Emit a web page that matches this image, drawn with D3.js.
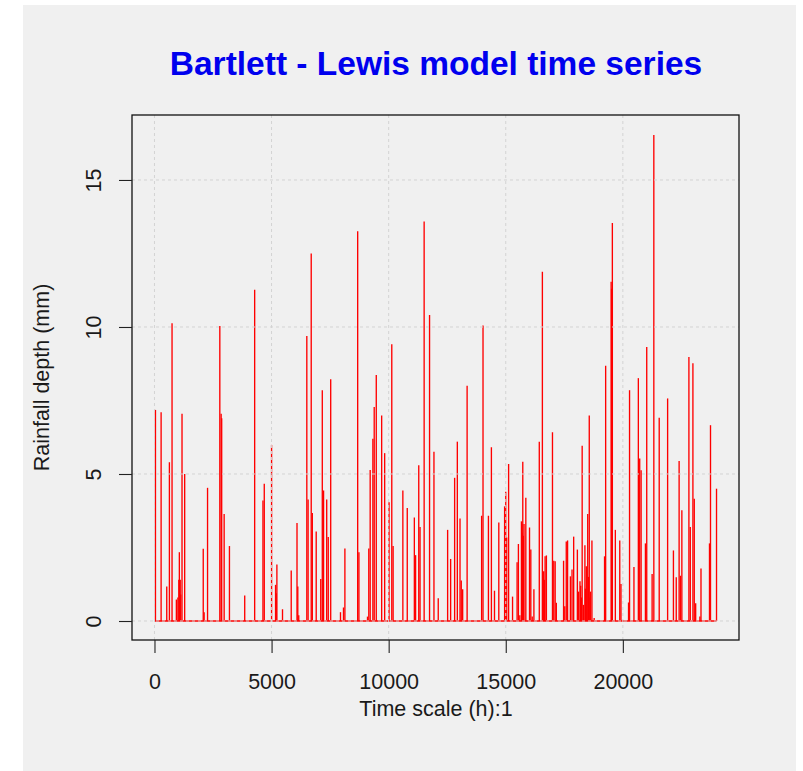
<!DOCTYPE html>
<html><head><meta charset="utf-8">
<script src="https://cdn.jsdelivr.net/npm/d3@7"></script>
<style>html,body{margin:0;padding:0;background:#fff;}svg{display:block;}</style>
</head><body>
<script>
// ---- data ----
const chartTitle = "Bartlett - Lewis model time series";
const xLabel = "Time scale (h):1";
const yLabel = "Rainfall depth (mm)";
const xTicks = [0, 5000, 10000, 15000, 20000];
const yTicks = [0, 5, 10, 15];
const seriesStart = 0, seriesEnd = 24000;
// hour of each rainfall spike
const hours = [
 42,283,524,637,750,935,1000,1040,1062,1100,1120,1176,1289,2082,2120,2266,2790,2847,2870,2975,3201,3853,4278,4632,4688,5000,5170,5200,5227,5467,
 5839,6086,6120,6160,6505,6560,6693,6740,6906,7100,7166,7220,7354,7420,7525,7943,8071,8131,8677,8730,9096,9151,9211,9326,9383,9471,9701,9829,10017,10133,10190,
 10606,10794,11097,11150,11285,11340,11515,11746,11934,12117,
 12518,12646,12817,12932,13047,13100,13160,13350,13969,14029,14260,14387,14519,14703,14951,15000,15040,15122,15290,15484,15540,15600,15669,15690,15700,15727,15750,15780,15857,
 16015,16070,16130,16202,16432,16564,16620,16650,16680,16735,16995,17050,17110,17160,17469,17520,17584,17640,17760,17830,17900,18058,18110,18170,18200,18230,18263,18320,18380,18400,18440,18500,18530,18566,18600,18620,18680,18775,
 19219,19266,19500,19520,19552,19680,19868,19920,20243,20286,20474,20662,20720,20780,20964,21020,21250,21323,21553,21912,22160,22280,22403,22460,22520,22821,22880,22992,23050,23110,23290,23337,23700,23743,24000
];
// rainfall depth (mm) of each spike
const depths = [
 7.18,7.1,1.17,5.4,10.13,0.73,0.8,1.4,2.34,1.4,0.9,7.05,5.0,2.46,0.3,4.53,10.03,7.05,6.9,3.64,2.55,0.87,11.27,4.1,4.67,5.99,1.23,0.94,1.92,0.4,
 1.72,3.33,1.17,0.2,9.69,4.13,12.5,3.67,3.04,1.43,7.85,4.44,4.13,2.86,8.22,0.3,0.46,2.47,13.26,2.34,0.15,2.47,5.14,6.2,7.28,8.37,6.99,5.71,4.04,9.41,2.55,
 4.44,3.84,3.52,2.24,5.3,3.2,13.59,10.41,5.76,0.77,
 3.1,2.11,4.87,6.1,3.49,1.38,1.08,8.0,3.58,10.05,3.58,5.91,1.03,3.35,3.9,4.4,2.84,5.34,0.83,2.0,2.62,0.2,3.39,3.3,3.0,5.42,2.9,3.3,4.19,
 3.18,2.43,0.15,1.08,6.1,11.88,1.69,1.4,2.2,2.23,6.42,2.05,2.03,0.62,2.05,0.5,2.7,2.74,1.52,1.75,2.87,2.43,1.0,1.35,1.2,0.8,5.96,0.55,2.58,1.1,1.86,3.64,1.5,6.99,0.8,1.0,2.74,0.1,
 2.2,8.68,11.54,11.3,13.54,3.1,2.74,1.26,0.63,7.85,1.84,8.26,5.53,5.13,2.64,9.32,1.6,16.53,6.91,7.57,2.4,1.49,5.44,1.54,3.77,8.98,3.2,8.77,4.16,0.6,0.15,1.79,2.64,6.66,4.5
];

const W = 803, H = 771;
const svg = d3.select("body").append("svg").attr("width", W).attr("height", H);
svg.append("rect").attr("x", 23).attr("y", 5).attr("width", 773).attr("height", H - 5).attr("fill", "#f0f0f0");

const pL = 132, pR = 739, pT = 115, pB = 640;
const x = d3.scaleLinear().domain([-960, 24960]).range([pL, pR]);
const y = d3.scaleLinear().domain([-0.646, 17.21]).range([pB, pT]);

const font = "'Liberation Sans', Arial, Helvetica, sans-serif";
const textCol = "#1a1a1a";

// series: zero baseline + spikes
const g = svg.append("g");
g.append("line").attr("x1", x(seriesStart)).attr("x2", x(seriesEnd))
  .attr("y1", y(0)).attr("y2", y(0)).attr("stroke", "#ff0000").attr("stroke-width", 1.3);
const pts = hours.map((h, i) => ({h, v: depths[i]}));
g.selectAll("line.spike").data(pts).enter().append("line").attr("class", "spike")
  .attr("x1", d => x(d.h)).attr("x2", d => x(d.h))
  .attr("y1", y(0)).attr("y2", d => y(d.v))
  .attr("stroke", "#ff0000").attr("stroke-width", 1.35);

// grid (drawn on top, like R's grid())
const grid = svg.append("g").attr("stroke", "#d3d3d3").attr("stroke-width", 1).attr("stroke-dasharray", "3,3");
grid.selectAll("line.gx").data(xTicks).enter().append("line")
  .attr("x1", d => x(d)).attr("x2", d => x(d)).attr("y1", pT).attr("y2", pB);
grid.selectAll("line.gy").data(yTicks).enter().append("line")
  .attr("x1", pL).attr("x2", pR).attr("y1", d => y(d)).attr("y2", d => y(d));

// box
svg.append("rect").attr("x", pL).attr("y", pT).attr("width", pR - pL).attr("height", pB - pT)
  .attr("fill", "none").attr("stroke", "#111").attr("stroke-width", 1.3);

// axes
const xAxis = svg.append("g").attr("transform", `translate(0,${pB})`)
  .call(d3.axisBottom(x).tickValues(xTicks).tickFormat(d3.format("d")).tickSize(13).tickPadding(21));
const yAxis = svg.append("g").attr("transform", `translate(${pL},0)`)
  .call(d3.axisLeft(y).tickValues(yTicks).tickFormat(d3.format("d")).tickSize(13));
[xAxis, yAxis].forEach(a => {
  a.select(".domain").remove();
  a.selectAll(".tick line").attr("stroke", "#222").attr("stroke-width", 1.1);
  a.selectAll("text").attr("fill", textCol).style("font-family", font).style("font-size", "21.5px");
});
yAxis.selectAll(".tick text").attr("x", null).attr("dy", null)
  .attr("transform", "translate(-31,0) rotate(-90)").attr("text-anchor", "middle");

// titles
svg.append("text").attr("x", 436).attr("y", 75).attr("text-anchor", "middle")
  .style("font-family", font).style("font-weight", "bold").style("font-size", "33.5px")
  .attr("fill", "#0000ee").text(chartTitle);
svg.append("text").attr("x", 436).attr("y", 716).attr("text-anchor", "middle")
  .style("font-family", font).style("font-size", "21.5px").attr("fill", textCol).text(xLabel);
svg.append("text").attr("transform", `translate(49,${(pT + pB) / 2}) rotate(-90)`).attr("text-anchor", "middle")
  .style("font-family", font).style("font-size", "21.5px").attr("fill", textCol).text(yLabel);
</script>
</body></html>
